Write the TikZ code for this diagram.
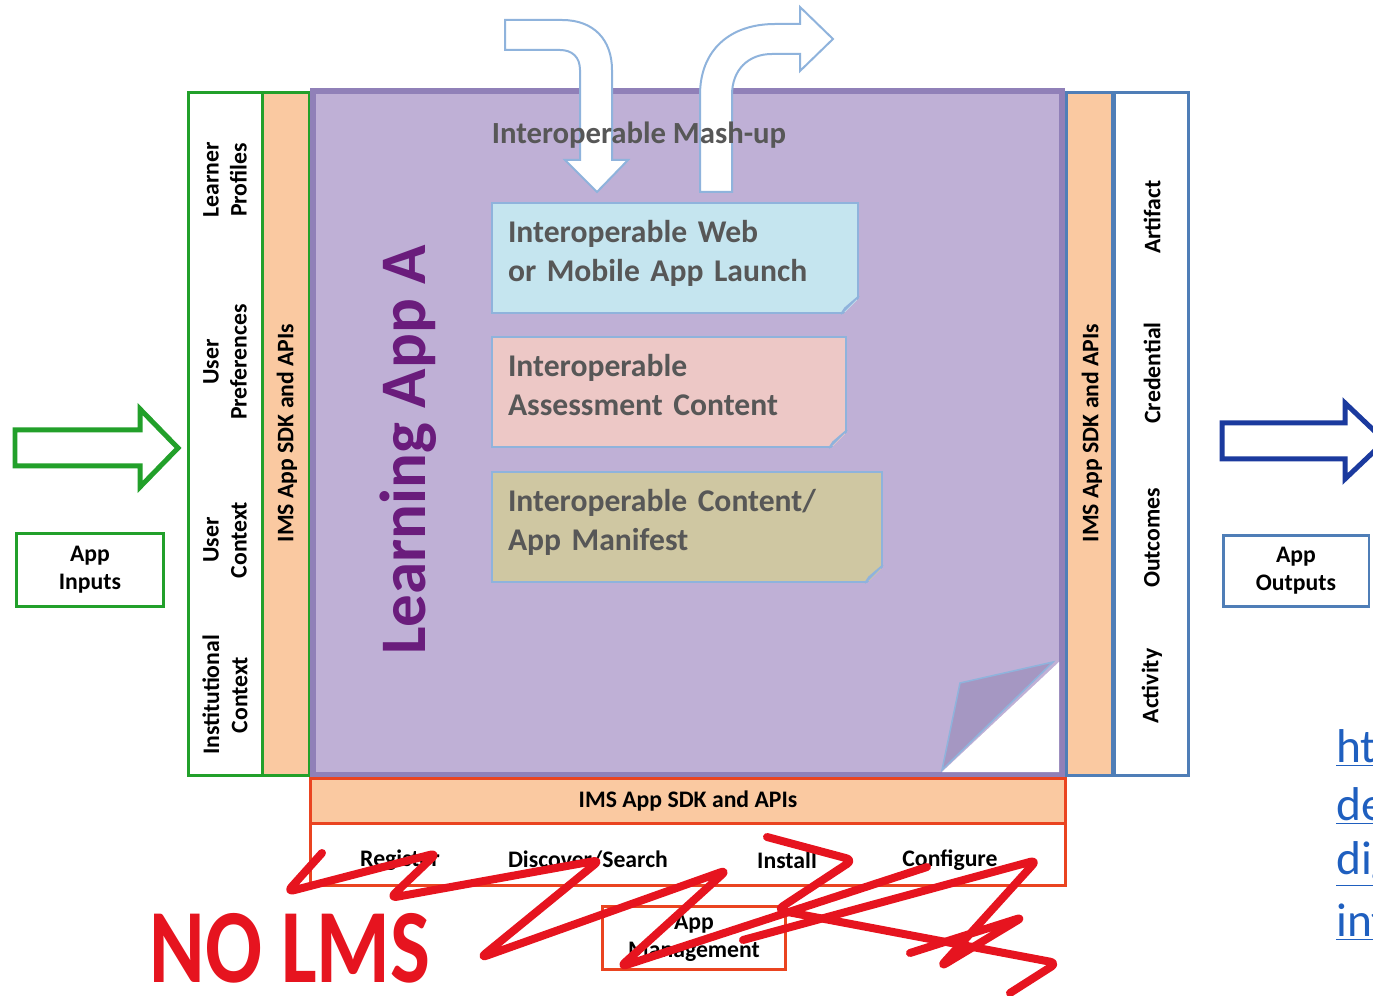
\documentclass[tikz,border=0pt]{standalone}
\usepackage{fontspec}
\setmainfont{Carlito}
\usetikzlibrary{positioning}

\definecolor{inGreen}{HTML}{22A02A}
\definecolor{sdkOrange}{HTML}{FAC9A1}
\definecolor{appBg}{HTML}{BFB0D6}
\definecolor{appBorder}{HTML}{9080B8}
\definecolor{outBlue}{HTML}{4F7EB7}
\definecolor{mgmtRed}{HTML}{EA4420}
\definecolor{webFill}{HTML}{C5E5EF}
\definecolor{assessFill}{HTML}{EDC8C6}
\definecolor{manifestFill}{HTML}{CFC7A2}
\definecolor{noteEdge}{HTML}{8FB3DC}
\definecolor{noteText}{HTML}{575757}
\definecolor{titlePurple}{HTML}{6A1C7C}
\definecolor{arrowNavy}{HTML}{1B3A9E}
\definecolor{linkBlue}{HTML}{1F5FBF}
\definecolor{scrawl}{HTML}{E6141F}
\definecolor{flapGray}{HTML}{A597C2}

\begin{document}
\begin{tikzpicture}[x=0.02cm, y=-0.02cm,
        boxtext/.style={font=\bfseries\fontsize{13.5}{16}\selectfont, align=center},
        coltext/.style={boxtext, rotate=90},
        frame/.style={line width=0.06cm},
        note/.style={draw=noteEdge, line width=0.04cm, minimum height=2.2cm,
            inner xsep=0.32cm, align=left, text=noteText, text depth=1.05cm,
            font=\bfseries\fontsize{18}{22}\selectfont},
        flap/.style={fill=flapGray, draw=noteEdge, line width=0.03cm},
        hollow/.style={fill=white, line width=0.1cm, line join=miter},
        bentarrow/.style={fill=white, draw=noteEdge, line width=0.04cm},
        scribble/.style={draw=scrawl, line width=0.16cm, line cap=round,
            line join=round, rounded corners=4pt},
        link/.style={text=linkBlue, font=\fontsize{27}{30}\selectfont, anchor=west},
    ]
    \useasboundingbox (0,0) rectangle (1373,996);

    \draw[hollow, draw=inGreen] (15,430) -- (140,430) -- (140,409) -- (178,448)
        -- (140,487) -- (140,466) -- (15,466) -- cycle;
    \node[boxtext, draw=inGreen, frame, minimum width=2.94cm, minimum height=1.46cm]
        (inputs) at (90,570) {App\\Inputs};

    \fill[sdkOrange] (262,93) rectangle (309,775);
    \draw[inGreen, frame] (188,93) rectangle (309,775);
    \draw[inGreen, frame] (262,93) -- (262,775);
    \node[coltext] (profiles) at (225,180) {Learner\\Profiles};
    \node[coltext] (prefs) at (225,362) {User\\Preferences};
    \node[coltext] (usercontext) at (225,540) {User\\Context};
    \node[coltext] (instcontext) at (225,695) {Institutional\\Context};
    \node[coltext] (sdkleft) at (287,433) {IMS App SDK and APIs};

    \draw[fill=appBg, draw=appBorder, line width=0.12cm] (313,91) rectangle (1062,775);
    \fill[white] (1059,662) -- (1059,772) -- (942,772) -- cycle;
    \filldraw[flap] (1053,662) -- (960,683) -- (942,770) -- cycle;

    \draw[bentarrow] (505,20) -- (562,20) .. controls (594,20) and (612,40) .. (612,70)
        -- (612,160) -- (628,160) -- (597,192) -- (565,160) -- (580,160) -- (580,70)
        .. controls (580,57) and (572,50) .. (560,50) -- (505,50) -- cycle;
    \draw[bentarrow] (700,192) -- (700,95) .. controls (700,50) and (730,24) .. (775,24)
        -- (800,24) -- (800,7) -- (833,39) -- (800,71) -- (800,54) -- (772,54)
        .. controls (748,54) and (732,70) .. (732,95) -- (732,192) -- cycle;

    \node[text=noteText, font=\bfseries\fontsize{17.5}{20}\selectfont] (mashup)
        at (639,135) {Interoperable Mash-up};
    \node[rotate=90, text=titlePurple, font=\bfseries\fontsize{37}{40}\selectfont]
        (title) at (408,450) {Learning App A};

    \node[note, fill=webFill, text width=6.68cm] (web) at (675,258)
        {Interoperable Web\\or Mobile App Launch};
    \node[note, fill=assessFill, text width=6.44cm] (assess) at (669,392)
        {Interoperable\\Assessment Content};
    \node[note, fill=manifestFill, text width=7.16cm] (manifest) at (687,527)
        {Interoperable Content/\\App Manifest};
    \foreach \n in {web,assess,manifest} {
        \fill[appBg] ([shift={(-0.36cm,-0.05cm)}]\n.south east)
            -- ([shift={(0.05cm,-0.05cm)}]\n.south east)
            -- ([shift={(0.05cm,0.36cm)}]\n.south east) -- cycle;
        \filldraw[flap] ([xshift=-0.36cm]\n.south east) -- ([yshift=0.36cm]\n.south east)
            -- ([shift={(-0.28cm,0.12cm)}]\n.south east) -- cycle;
    }

    \fill[sdkOrange] (1066,93) rectangle (1112,775);
    \draw[outBlue, frame] (1066,93) rectangle (1112,775);
    \draw[outBlue, frame] (1114,93) rectangle (1188,775);
    \node[coltext] (sdkright) at (1092,433) {IMS App SDK and APIs};
    \node[coltext] (artifact) at (1152,217) {Artifact};
    \node[coltext] (credential) at (1152,373) {Credential};
    \node[coltext] (outcomes) at (1152,538) {Outcomes};
    \node[coltext] (activity) at (1152,686) {Activity};

    \draw[hollow, draw=arrowNavy] (1222,423) -- (1345,423) -- (1345,403) -- (1385,441)
        -- (1345,479) -- (1345,459) -- (1222,459) -- cycle;
    \node[boxtext, draw=outBlue, frame, minimum width=2.92cm, minimum height=1.44cm]
        (outputs) at (1296,571) {App\\Outputs};

    \draw[mgmtRed, frame, fill=sdkOrange] (310,778) rectangle (1065,823);
    \draw[mgmtRed, frame] (310,823) rectangle (1065,885);
    \node[boxtext] (sdkbottom) at (688,801) {IMS App SDK and APIs};
    \node[boxtext] (register) at (400,860) {Register};
    \node[boxtext] (discover) at (588,860) {Discover/Search};
    \node[boxtext] (install) at (787,860) {Install};
    \node[boxtext] (configure) at (950,860) {Configure};
    \node[boxtext, draw=mgmtRed, frame, minimum width=3.66cm, minimum height=1.26cm]
        (management) at (694,938) {App\\Management};

    \node[link] (url1) at (1330,748) {\underline{htt}};
    \node[link] (url2) at (1330,806) {\underline{dev}};
    \node[link] (url3) at (1330,864) {\underline{dig}};
    \node[link] (url4) at (1330,922) {\underline{int}};

    \draw[scribble] (322,853) -- (287,892) -- (437,853) -- (390,898) -- (600,860)
        -- (480,958) -- (727,870) -- (620,967) -- (927,867);
    \draw[scribble] (767,837) -- (853,860) -- (777,910) -- (1057,963) -- (1010,993);
    \draw[scribble] (743,940) -- (1037,860) -- (940,967) -- (1023,917) -- (910,953);
    \node[text=scrawl, font=\bfseries\fontsize{60}{60}\selectfont] (nolms)
        at (290,948) {\scalebox{0.8}[1]{NO LMS}};
\end{tikzpicture}
\end{document}
